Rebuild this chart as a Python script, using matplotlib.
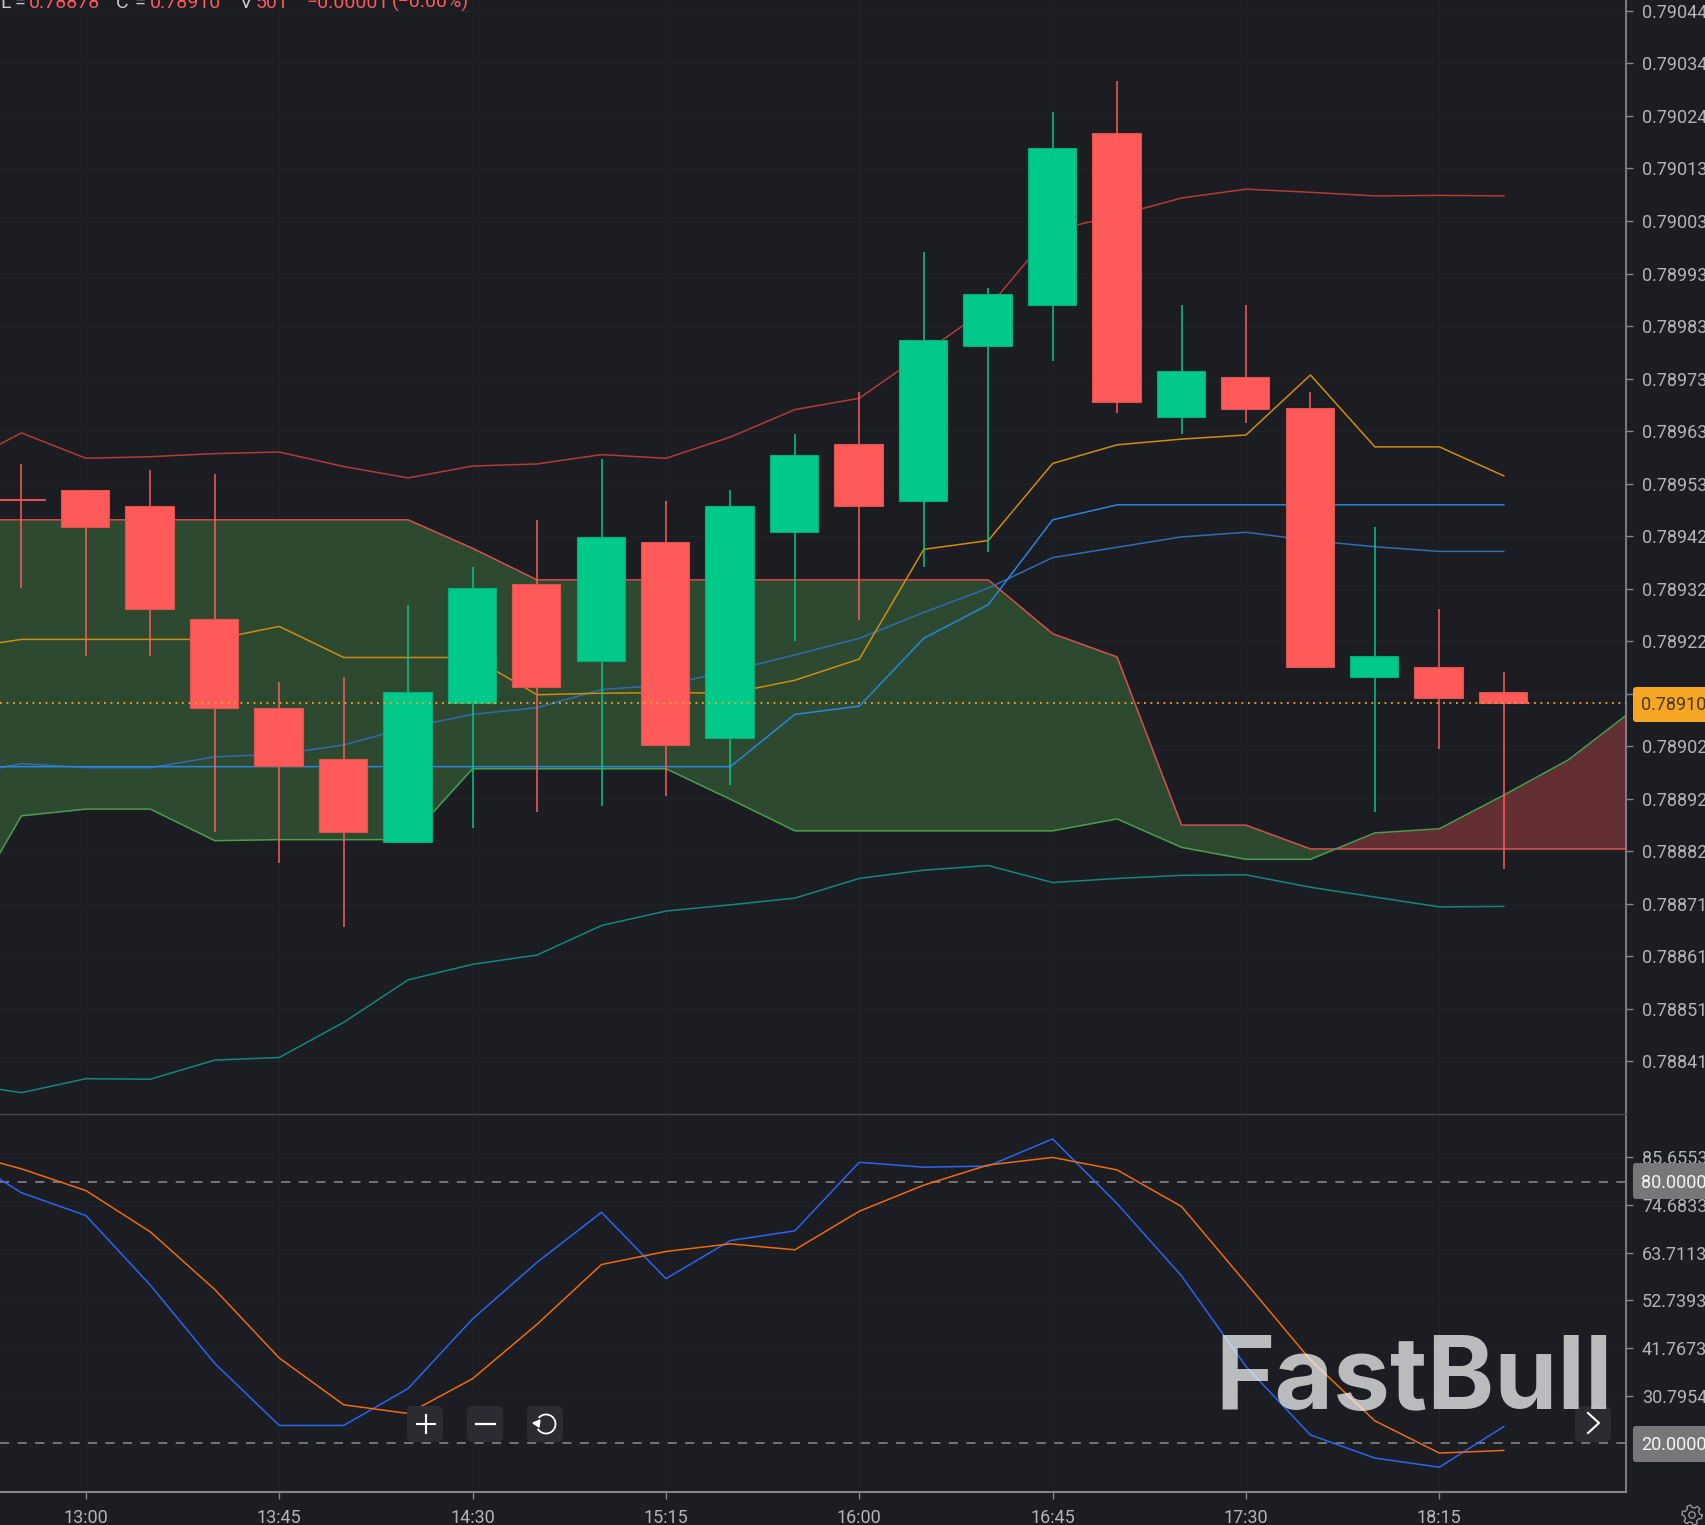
import numpy as np
import matplotlib
matplotlib.use("Agg")
import matplotlib.pyplot as plt
from matplotlib.patches import FancyBboxPatch, Circle, Arc, Polygon

plt.rcParams['font.family'] = ['Roboto', 'DejaVu Sans']

W, H = 1705, 1525
BG = '#1b1d22'
GRID = '#212328'
AXC = '#85878b'
TXT = '#b4b4b6'
RED = '#ff5a5a'
GREEN = '#00c98a'

# candles: first index is the 12:45 bar
first_index = -1
opens = [0.789491, 0.789510, 0.789480, 0.789262, 0.789090, 0.788991, 0.788831, 0.789100, 0.789329, 0.789180,
         0.789411, 0.789031, 0.789430, 0.789600, 0.789489, 0.789789, 0.789869, 0.790201, 0.789651, 0.789730,
         0.789670, 0.789150, 0.789169, 0.789121]
closes = [0.789491, 0.789440, 0.789281, 0.789090, 0.788978, 0.788850, 0.789121, 0.789321, 0.789129, 0.789419,
          0.789018, 0.789480, 0.789579, 0.789480, 0.789800, 0.789890, 0.790172, 0.789680, 0.789741, 0.789667,
          0.789169, 0.789190, 0.789108, 0.789100]
highs = [0.789560, 0.789510, 0.789550, 0.789541, 0.789140, 0.789150, 0.789289, 0.789361, 0.789453, 0.789571,
         0.789489, 0.789510, 0.789619, 0.789701, 0.789970, 0.789901, 0.790241, 0.790302, 0.789869, 0.789869,
         0.789701, 0.789440, 0.789281, 0.789159]
lows = [0.789321, 0.789190, 0.789190, 0.788850, 0.788789, 0.788667, 0.788831, 0.788858, 0.788888, 0.788900,
        0.788919, 0.788940, 0.789218, 0.789260, 0.789361, 0.789390, 0.789760, 0.789659, 0.789619, 0.789640,
        0.789169, 0.788888, 0.789010, 0.788779]

# overlays start at index -2
line_index = list(range(-2, 23))
boll_upper = [0.789556, 0.789621, 0.789572, 0.789575, 0.789581, 0.789584, 0.789556, 0.789534, 0.789557, 0.789561,
              0.789579, 0.789572, 0.789613, 0.789666, 0.789688, 0.789775, 0.789863, 0.790012, 0.790041, 0.790075,
              0.790092, 0.790086, 0.790079, 0.790080, 0.790079]
boll_lower = [0.788365, 0.788346, 0.788373, 0.788372, 0.788409, 0.788414, 0.788482, 0.788564, 0.788594, 0.788612,
              0.788669, 0.788697, 0.788709, 0.788722, 0.788760, 0.788776, 0.788785, 0.788752, 0.788760, 0.788766,
              0.788767, 0.788743, 0.788724, 0.788705, 0.788706]
boll_mid = [0.788957, 0.788982, 0.788974, 0.788974, 0.788995, 0.789000, 0.789018, 0.789052, 0.789077, 0.789090,
            0.789125, 0.789134, 0.789161, 0.789192, 0.789224, 0.789274, 0.789321, 0.789380, 0.789400, 0.789420,
            0.789429, 0.789413, 0.789401, 0.789392, 0.789392]
tenkan = [0.789203, 0.789222, 0.789222, 0.789222, 0.789222, 0.789247, 0.789187, 0.789187, 0.789187, 0.789115,
          0.789118, 0.789119, 0.789118, 0.789143, 0.789184, 0.789396, 0.789413, 0.789562, 0.789598, 0.789609,
          0.789617, 0.789733, 0.789594, 0.789594, 0.789538]
kijun = [0.788976, 0.788976, 0.788976, 0.788976, 0.788976, 0.788976, 0.788976, 0.788976, 0.788976, 0.788976,
         0.788976, 0.788976, 0.788976, 0.789077, 0.789093, 0.789224, 0.789289, 0.789453, 0.789482, 0.789482,
         0.789482, 0.789482, 0.789482, 0.789482, 0.789482]
cloud_index = list(range(-2, 25))
senkou_b = [0.789453, 0.789453, 0.789453, 0.789453, 0.789453, 0.789453, 0.789453, 0.789453, 0.789398, 0.789337,
            0.789337, 0.789337, 0.789337, 0.789337, 0.789337, 0.789337, 0.789337, 0.789233, 0.789188, 0.788863,
            0.788863, 0.788817, 0.788817, 0.788817, 0.788817, 0.788817, 0.788817]
senkou_a = [0.788667, 0.788881, 0.788894, 0.788894, 0.788833, 0.788835, 0.788835, 0.788835, 0.788972, 0.788972,
            0.788972, 0.788972, 0.788913, 0.788852, 0.788852, 0.788852, 0.788852, 0.788852, 0.788875, 0.788820,
            0.788797, 0.788797, 0.788848, 0.788856, 0.788921, 0.788989, 0.789085]
last_price = 0.78910

price_ticks = [0.790436, 0.790335, 0.790233, 0.790132, 0.790030, 0.789929, 0.789827, 0.789726, 0.789624, 0.789523,
               0.789421, 0.789320, 0.789218, 0.789117, 0.789015, 0.788914, 0.788813, 0.788711, 0.788610, 0.788508,
               0.788407]
price_labels = ['0.79044', '0.79034', '0.79024', '0.79013', '0.79003', '0.78993', '0.78983', '0.78973', '0.78963',
                '0.78953', '0.78942', '0.78932', '0.78922', '', '0.78902', '0.78892', '0.78882', '0.78871',
                '0.78861', '0.78851', '0.78841']

# stochastic pane
k_line = [86.65, 77.43, 72.19, 56.23, 38.28, 24.06, 24.06, 32.54, 48.50, 61.47, 72.94, 57.73, 66.46, 68.70, 84.41,
          83.29, 83.54, 89.77, 74.93, 58.35, 37.58, 21.89, 16.58, 14.49, 23.81]
d_line = [86.90, 82.91, 77.92, 68.45, 55.23, 39.52, 28.80, 26.81, 34.79, 47.26, 60.97, 63.96, 65.71, 64.34, 73.19,
          79.17, 83.79, 85.53, 82.66, 74.26, 56.73, 39.10, 25.11, 17.73, 18.33]
osc_ticks = [85.6553, 74.6833, 63.7113, 52.7393, 41.7673, 30.7954]
osc_labels = ['85.6553', '74.6833', '63.7113', '52.7393', '41.7673', '30.7954']
osc_levels = [80.0, 20.0]
osc_level_labels = ['80.0000', '20.0000']

time_index = [0, 3, 6, 9, 12, 15, 18, 21]
time_labels = ['13:00', '13:45', '14:30', '15:15', '16:00', '16:45', '17:30', '18:15']

legend_parts = [('L', 0, '#c8c8ca'), ('=', 14, '#c8c8ca'), ('0.78878', 29, RED), ('C', 116, '#c8c8ca'),
                ('=', 134, '#c8c8ca'), ('0.78910', 150, RED), ('V', 240, '#c8c8ca'), ('501', 256, RED),
                ('\u22120.00001', 306, RED), ('(\u22120.00%)', 392, RED)]

fig = plt.figure(figsize=(W / 100, H / 100), dpi=100, facecolor=BG)


def axes_px(x0, y0, x1, y1):
    return fig.add_axes([x0 / W, 1 - y1 / H, (x1 - x0) / W, (y1 - y0) / H], facecolor=BG)


PANE_R = 1626
MAIN_B = 1113.5
OSC_B = 1492
XLIM = (-1.333, 23.896)

ax = axes_px(0, 0, PANE_R, MAIN_B)
ax.set_xlim(*XLIM)
ax.set_ylim(0.78830574, 0.7904576)
osc = axes_px(0, MAIN_B, PANE_R, OSC_B)
osc.set_xlim(*XLIM)
osc.set_ylim(8.80, 95.60)

# grid
for a in (ax, osc):
    a.set_xticks(time_index)
    a.grid(True, color=GRID, lw=0.8)
    a.set_axisbelow(True)
    a.yaxis.tick_right()
    for s in ('left', 'top'):
        a.spines[s].set_visible(False)
    a.spines['right'].set_color(AXC)
    a.spines['right'].set_linewidth(1.3)
ax.spines['bottom'].set_visible(False)
ax.tick_params(axis='x', length=0, labelbottom=False)
ax.set_yticks(price_ticks)
ax.set_yticklabels(price_labels)
ax.tick_params(axis='y', length=5, width=1, color=AXC, labelcolor=TXT, labelsize=13, pad=6.5)
osc.spines['bottom'].set_color(AXC)
osc.spines['bottom'].set_linewidth(1.5)
osc.set_yticks(osc_ticks)
osc.set_yticklabels(osc_labels)
osc.tick_params(axis='y', length=5, width=1, color=AXC, labelcolor=TXT, labelsize=13, pad=6.5)
osc.set_xticks(time_index)
osc.set_xticklabels(time_labels)
osc.tick_params(axis='x', length=5, width=1, color=AXC, labelcolor=TXT, labelsize=13, pad=7)

# cloud
cx = np.array(cloud_index, dtype=float)
sa = np.array(senkou_a)
sb = np.array(senkou_b)
ax.fill_between(cx, sa, sb, where=sb >= sa, interpolate=True, color='#2d4a30', lw=0, zorder=1.2)
ax.fill_between(cx, sa, sb, where=sb <= sa, interpolate=True, color='#632f33', lw=0, zorder=1.2)
ax.plot(cx, sb, color='#d9504c', lw=1.1, zorder=2)
ax.plot(cx, sa, color='#4a9e4c', lw=1.1, zorder=2)

lx = np.array(line_index, dtype=float)
ax.plot(lx, boll_upper, color='#b53a36', lw=1.1, zorder=2)
ax.plot(lx, boll_lower, color='#12887a', lw=1.1, zorder=2)
ax.plot(lx, boll_mid, color='#2f6cb4', lw=1.1, zorder=2)
ax.plot(lx, kijun, color='#2a86dc', lw=1.1, zorder=2)
ax.plot(lx, tenkan, color='#d08c10', lw=1.1, zorder=2)

# candles
idx = np.arange(len(opens)) + first_index
for i, o, c, h, l in zip(idx, opens, closes, highs, lows):
    up = c > o
    col = GREEN if up else RED
    edge = '#05ad78' if up else '#dc5350'
    ax.vlines(i, l, h, color=col, lw=1.1, zorder=3)
    ax.bar(i - 0.012, max(abs(c - o), 1.5e-6), bottom=min(o, c), width=0.75, color=col, edgecolor=edge, lw=0.8, zorder=3.1)

ax.axhline(last_price, color='#f5a623', lw=1.3, ls=(0, (1, 2.6)), zorder=4)

# oscillator
ox = np.array(line_index, dtype=float)
for lev in osc_levels:
    osc.axhline(lev, color='#8c8c8e', lw=1.1, ls=(0, (6, 5.5)), zorder=2)
osc.plot(ox, k_line, color='#2a64f0', lw=1.1, zorder=3)
osc.plot(ox, d_line, color='#f06a10', lw=1.1, zorder=3)

# overlay in pixel coordinates
ov = fig.add_axes([0, 0, 1, 1], facecolor='none')
ov.set_xlim(0, W)
ov.set_ylim(H, 0)
ov.axis('off')

ov.plot([0, PANE_R], [MAIN_B, MAIN_B], color='#44464a', lw=1.0, zorder=4)


def tag(y0, y1, fc, label, tc, dy):
    ov.add_patch(FancyBboxPatch((1633, y0), 120, y1 - y0, boxstyle='round,pad=0,rounding_size=3', fc=fc, ec='none', zorder=5))
    ov.text(1641, (y0 + y1) / 2 + dy, label, color=tc, fontsize=13, va='center', ha='left', zorder=6)


tag(687, 722, '#f5a623', f'{last_price:.5f}', '#4a3a1a', 0.5)
tag(1163, 1199, '#777779', osc_level_labels[0], '#f4f4f4', 1.5)
tag(1426, 1462, '#777779', osc_level_labels[1], '#f4f4f4', 1.5)

for t, px, c in legend_parts:
    ov.text(px, 7.5, t, color=c, fontsize=14, va='baseline', ha='left', zorder=6, clip_on=False)

for x0 in (407, 467, 527, 1575):
    ov.add_patch(FancyBboxPatch((x0, 1406), 36, 36, boxstyle='round,pad=0,rounding_size=5', fc='#2a2c31', ec='none', zorder=5))
ov.plot([417, 435], [1424, 1424], color='white', lw=1.5, zorder=6)
ov.plot([425.5, 425.5], [1415, 1433], color='white', lw=1.5, zorder=6)
ov.plot([476, 495], [1424, 1424], color='white', lw=1.6, zorder=6)
ov.add_patch(Arc((546, 1424), 19, 19, angle=0, theta1=-140, theta2=150, color='white', lw=1.3, zorder=6))
ov.add_patch(Polygon([[533, 1423], [540, 1420], [539, 1427]], closed=True, color='white', zorder=6))
ov.plot([1588, 1599, 1588], [1413, 1423, 1433], color='white', lw=1.5, zorder=6)

# gear
ang = np.linspace(0, 2 * np.pi, 49)
rad = np.where((np.arange(49) % 8) < 4, 10, 7.5)
ov.plot(1692 + rad * np.cos(ang), 1515 + rad * np.sin(ang), color='#a0a0a2', lw=0.9, zorder=6)
ov.add_patch(Circle((1692, 1515), 3.2, fc='none', ec='#a0a0a2', lw=0.9, zorder=6))

# logo
ov.text(1215, 1409, 'FastBull', family='Inter', fontweight='bold', fontsize=73, color='white', alpha=0.7,
        va='baseline', ha='left', zorder=7)

fig.savefig('out.png', dpi=100, facecolor=BG)
